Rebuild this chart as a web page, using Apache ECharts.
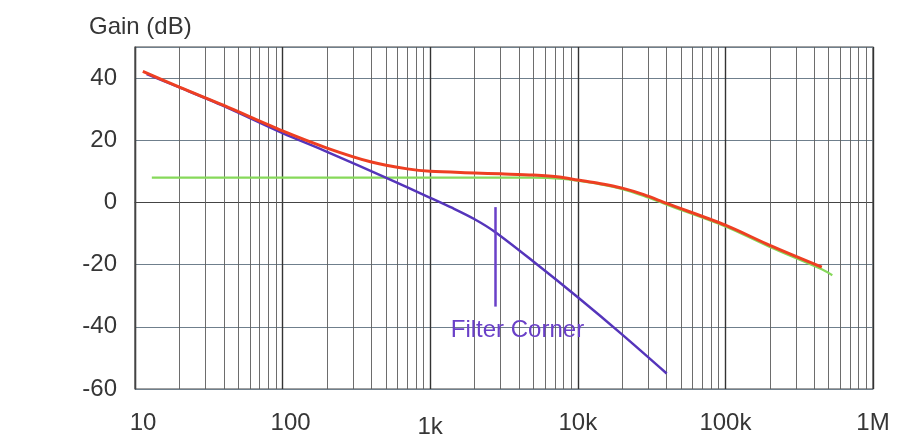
<!DOCTYPE html>
<html><head><meta charset="utf-8">
<script src="https://cdn.jsdelivr.net/npm/echarts@6/dist/echarts.min.js"></script>
<style>html,body{margin:0;padding:0;background:#fff}#c{width:911px;height:439px}</style>
</head><body><div id="c"></div>
<script>
// ---- axis ticks ----
const xTickValues = [10, 100, 1000, 10000, 100000, 1000000];
const xTickLabels = ['10', '100', '1k', '10k', '100k', '1M'];
const yTickValues = [-60, -40, -20, 0, 20, 40];
const minorMultipliers = [2, 3, 4, 5, 6, 7, 8, 9];

// ---- total gain (red) ----
const totalFreq = [11.3, 20, 40, 100, 200, 400, 700, 1000, 2000, 3000, 5000, 7500, 10000, 14000, 20000, 28000, 40000, 100000, 200000, 450000];
const totalGain = [42.2, 37.1, 31.2, 23.0, 17.5, 13.0, 10.8, 10.0, 9.5, 9.2, 8.8, 8.2, 7.2, 6.1, 4.6, 2.5, -0.3, -7.3, -13.8, -20.8];

// ---- flat amplifier (green) ----
const ampFreq = [13, 100, 1000, 5000, 8000, 10000, 14000, 20000, 28000, 40000, 100000, 200000, 450000, 530000];
const ampGain = [8.0, 8.0, 8.0, 8.0, 7.6, 7.0, 5.9, 4.3, 2.1, -0.7, -7.7, -14.3, -21.5, -23.4];

// ---- filter response (blue) ----
const filterFreq = [12, 20, 40, 100, 200, 500, 1000, 1400, 2000, 2750, 5000, 10000, 20000, 40000];
const filterGain = [41.3, 37.0, 31.0, 22.3, 16.3, 8.0, 1.5, -1.7, -5.4, -9.5, -19.0, -30.5, -42.5, -55.0];

// ---- annotation ----
const cornerFreq = 2750;
const cornerTop = -1.5;
const cornerBottom = -33.5;
const cornerLabel = 'Filter Corner';
const cornerLabelFreq = 3900;
const cornerLabelGain = -41;

const pairs = (xs, ys) => xs.map((x, i) => [x, ys[i]]);
const minorLines = [];
for (let d = 0; d < xTickValues.length - 1; d++) {
  minorMultipliers.forEach(m => minorLines.push({ xAxis: xTickValues[d] * m }));
}

const FONT = 'Liberation Sans, Arial, sans-serif';
const TXT = '#363636';

const chart = echarts.init(document.getElementById('c'), null, { renderer: 'canvas' });
chart.setOption({
  backgroundColor: '#ffffff',
  animation: false,
  title: {
    text: 'Gain (dB)', left: 84, top: 10,
    textStyle: { fontFamily: FONT, fontSize: 24, fontWeight: 'normal', color: TXT }
  },
  grid: { left: 135, right: 38, top: 47, bottom: 49, show: true, borderColor: '#444', borderWidth: 1.2, backgroundColor: 'transparent' },
  xAxis: {
    type: 'log', logBase: 10, min: 10, max: 1000000,
    axisLine: { show: true, lineStyle: { color: '#444', width: 1.2 } },
    axisTick: { show: false },
    axisLabel: {
      fontFamily: FONT, fontSize: 24, color: TXT, margin: 22,
      showMinLabel: true, showMaxLabel: true,
      formatter: v => {
        const i = xTickValues.findIndex(t => Math.abs(t - v) / t < 1e-6);
        if (i < 0) return '';
        if (i === 0) return '{a|' + xTickLabels[i] + '}';
        if (i === 1) return '{b|' + xTickLabels[i] + '}';
        if (i === 2) return '{c|' + xTickLabels[i] + '}';
        return xTickLabels[i];
      },
      rich: {
        a: { fontFamily: FONT, fontSize: 24, color: TXT, padding: [0, 0, 0, 16] },
        b: { fontFamily: FONT, fontSize: 24, color: TXT, padding: [0, 0, 0, 16] },
        c: { fontFamily: FONT, fontSize: 24, color: TXT, padding: [4, 0, 0, 0] }
      }
    },
    splitLine: { show: true, lineStyle: { color: '#333', width: 1.4 } }
  },
  yAxis: {
    type: 'value', min: -60, max: 50, interval: 20,
    axisLine: { show: true, lineStyle: { color: '#444', width: 1.2 } },
    axisTick: { show: false },
    axisLabel: {
      fontFamily: FONT, fontSize: 24, color: TXT, margin: 18,
      formatter: v => yTickValues.includes(v) ? String(v) : ''
    },
    splitLine: { show: true, lineStyle: { color: '#6f7f8c', width: 1 } }
  },
  series: [
    {
      name: 'Amplifier', type: 'line', data: pairs(ampFreq, ampGain), smooth: 0.3,
      symbol: 'none', lineStyle: { color: '#86d95a', width: 2.2 }, z: 3,
      markLine: {
        silent: true, symbol: 'none', z: 1, animation: false,
        label: { show: false },
        lineStyle: { color: '#5c5c5c', width: 0.9, type: 'solid' },
        data: minorLines
      }
    },
    {
      name: 'Filter', type: 'line', data: pairs(filterFreq, filterGain), smooth: 0.3,
      symbol: 'none', lineStyle: { color: '#5535bb', width: 2.5 }, z: 4,
      markLine: {
        silent: true, symbol: 'none', animation: false,
        label: { show: false },
        lineStyle: { color: '#6a40c8', width: 2.5, type: 'solid' },
        data: [[{ coord: [cornerFreq, cornerTop] }, { coord: [cornerFreq, cornerBottom] }]]
      },
      markPoint: {
        silent: true, symbol: 'circle', symbolSize: 0, animation: false,
        label: { show: true, position: 'inside', formatter: cornerLabel, fontFamily: FONT, fontSize: 24, color: '#6a40c8' },
        data: [{ coord: [cornerLabelFreq, cornerLabelGain] }]
      }
    },
    {
      name: 'Total', type: 'line', data: pairs(totalFreq, totalGain), smooth: 0.3,
      symbol: 'none', lineStyle: { color: '#ee3f22', width: 3 }, z: 5
    }
  ]
});
</script>
</body></html>
